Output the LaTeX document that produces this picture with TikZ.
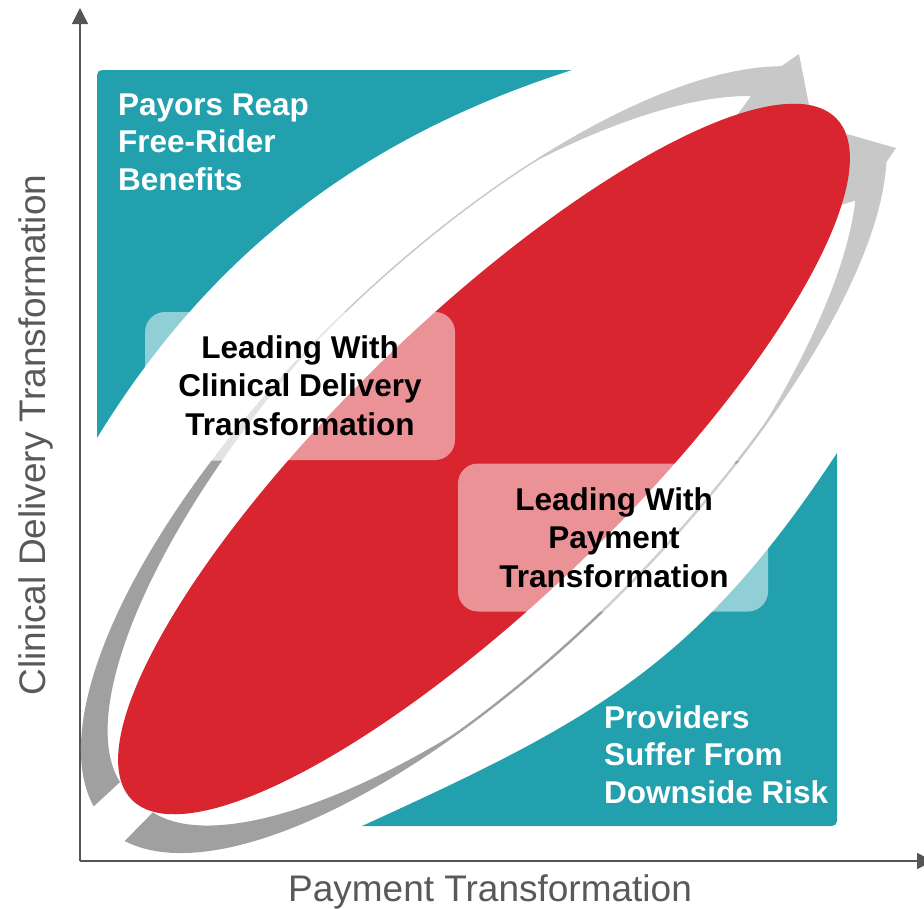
\documentclass[tikz,border=0pt]{standalone}
\usepackage{fontspec}
\setmainfont{Liberation Sans}
\usetikzlibrary{arrows.meta}

\definecolor{tealc}{HTML}{23A0AE}
\definecolor{redc}{HTML}{D8252F}
\definecolor{arrowlight}{HTML}{C8C8C8}
\definecolor{arrowdark}{HTML}{A0A0A0}
\definecolor{axisc}{HTML}{555555}
\definecolor{labelc}{HTML}{595959}

% The arrows are traced in the frame of the central ellipse:
% s runs along its long axis, d across it (both in pt).
% Upper arrow: outer edge on an ellipse 525 x 203, width wu(t).
\newcommand{\upperarrowpath}{%
  plot[domain=174:22, samples=100, variable=\t]
    ({px(525*cos(\t), -203*sin(\t))}, {py(525*cos(\t), -203*sin(\t))})
  -- (799,54) -- (809,105) -- (737,115)
  -- plot[domain=26:173, samples=100, variable=\t]
    ({px((525-wu(\t))*cos(\t), -(203-wu(\t))*sin(\t))},
     {py((525-wu(\t))*cos(\t), -(203-wu(\t))*sin(\t))})
  -- cycle}

% Lower arrow: outer edge on an egg-shaped curve, width wl(t).
\newcommand{\lowerarrowpath}{%
  plot[domain=172.5:20, samples=100, variable=\t]
    ({px(-20+al(\t)*cos(\t), 193*sin(\t))}, {py(-20+al(\t)*cos(\t), 193*sin(\t))})
  -- (896,148) -- (847,134) -- (834,207)
  -- plot[domain=26:171, samples=100, variable=\t]
    ({px(-20+(al(\t)-wl(\t))*cos(\t), (193-wl(\t))*sin(\t))},
     {py(-20+(al(\t)-wl(\t))*cos(\t), (193-wl(\t))*sin(\t))})
  -- cycle}

\begin{document}
\begin{tikzpicture}[x=1pt, y=-1pt,
  declare function={
    px(\s,\d)=484+0.71934*\s+0.69466*\d;
    py(\s,\d)=459-0.69466*\s+0.71934*\d;
    wu(\t)=1.5+28*max(0,(\t-95)/65)+30*max(0,(62-\t)/37);
    wl(\t)=2.5+37*max(0,(\t-112)/60)+27*max(0,(62-\t)/37);
    al(\t)=529+21*cos(\t);
  },
  axisline/.style={draw=axisc, line width=1.5pt, -{Triangle[length=16pt, width=16pt]}},
  axislabel/.style={text=labelc, inner sep=0pt, font=\fontsize{37}{44}\selectfont},
  quadtext/.style={text=white, inner sep=0pt, align=left,
    font=\fontsize{31.5}{37.5}\selectfont\bfseries},
  leadbox/.style={fill=white, fill opacity=0.5, rounded corners=20pt, inner sep=0pt,
    minimum width=310pt, minimum height=148pt},
  leadtext/.style={text=black, inner sep=0pt, align=center,
    font=\fontsize{31.5}{38.5}\selectfont\bfseries}]

\useasboundingbox (0,0) rectangle (924,908);

% axes
\coordinate (origin) at (80,861);
\coordinate (ytip) at (80,8);
\coordinate (xtip) at (933,861);
\draw[axisline] (origin) -- (ytip);
\draw[axisline] (origin) -- (xtip);

% quadrant regions
\fill[tealc] (97,438) -- (97,75) arc[start angle=180, end angle=270, radius=5]
  -- (572,70) .. controls (372,134) and (215,245) .. (97,438) -- cycle;
\fill[tealc] (837,453) -- (837,821) arc[start angle=0, end angle=90, radius=5]
  -- (362,826) .. controls (592,721) and (697,666) .. (837,453) -- cycle;

% curved arrows, lighter in the upper half
\begin{scope}
  \clip (0,0) rectangle (924,461);
  \fill[arrowlight] \upperarrowpath;
  \fill[arrowlight] \lowerarrowpath;
\end{scope}
\begin{scope}
  \clip (0,461) rectangle (924,908);
  \fill[arrowdark] \upperarrowpath;
  \fill[arrowdark] \lowerarrowpath;
\end{scope}

% central ellipse
\fill[redc, rotate around={44:(484,459)}] (484,459) ellipse [x radius=490, y radius=141];

% translucent label boxes
\node[leadbox] (box1) at (300,386) {};
\node[leadbox] (box2) at (613,537.5) {};

% texts (base anchor sits on the last line)
\node[quadtext, anchor=base west] (payors) at (118,190) {Payors Reap\\Free-Rider\\Benefits};
\node[quadtext, anchor=base west] (providers) at (604,803) {Providers\\Suffer From\\Downside Risk};
\node[leadtext, anchor=base] (lead1) at (300,435) {Leading With\\Clinical Delivery\\Transformation};
\node[leadtext, anchor=base] (lead2) at (614,587) {Leading With\\Payment\\Transformation};

\node[axislabel, rotate=90, anchor=base] (ylabel) at (45,435) {Clinical Delivery Transformation};
\node[axislabel, anchor=base] (xlabel) at (490,901) {Payment Transformation};

\end{tikzpicture}
\end{document}
